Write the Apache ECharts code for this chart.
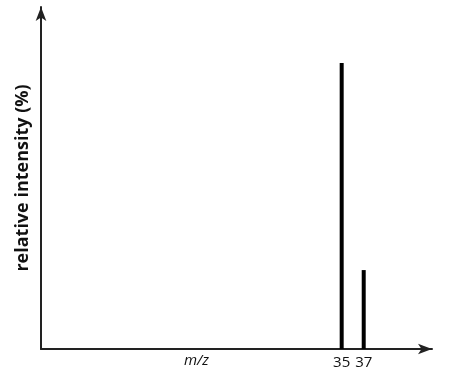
<!DOCTYPE html>
<html><head><meta charset="utf-8">
<script src="https://cdn.jsdelivr.net/npm/echarts@6/dist/echarts.min.js"></script>
<style>html,body{margin:0;padding:0;background:#fff}#c{width:452px;height:381px}</style>
</head><body><div id="c"></div>
<script>
const mz = [35, 37];
const intensity = [100, 27.6];
const tickLabels = [35, 37];
const yTitle = 'relative intensity (%)';
const xTitle = 'm/z';

const chart = echarts.init(document.getElementById('c'), null, {renderer: 'canvas'});
chart.setOption({
  animation: false,
  grid: {left: 41, top: 7, width: 391, bottom: 32},
  xAxis: {
    type: 'value', min: 7.7, max: 43.2,
    splitLine: {show: false},
    axisLine: {lineStyle: {color: '#222', width: 2}, symbol: ['none', 'arrow'], symbolSize: [8, 14]},
    axisTick: {show: false},
    axisLabel: {customValues: tickLabels, color: '#111', fontSize: 15, fontFamily: 'Open Sans', margin: 6}
  },
  yAxis: {
    type: 'value', min: 0, max: 119.6,
    splitLine: {show: false},
    axisLine: {show: true, lineStyle: {color: '#222', width: 2}, symbol: ['none', 'arrow'], symbolSize: [8, 14]},
    axisTick: {show: false},
    axisLabel: {show: false},
    name: yTitle, nameLocation: 'middle', nameGap: 9,
    nameTextStyle: {fontSize: 18, fontWeight: 'bold', color: '#111', fontFamily: 'Open Sans'}
  },
  graphic: [{type: 'text', left: 184, top: 353, style: {text: xTitle, font: 'italic 15px "Open Sans"', fill: '#111'}}],
  series: [{
    type: 'bar', barWidth: 4,
    itemStyle: {color: '#000'},
    data: mz.map((m, i) => [m, intensity[i]])
  }]
});
</script></body></html>
